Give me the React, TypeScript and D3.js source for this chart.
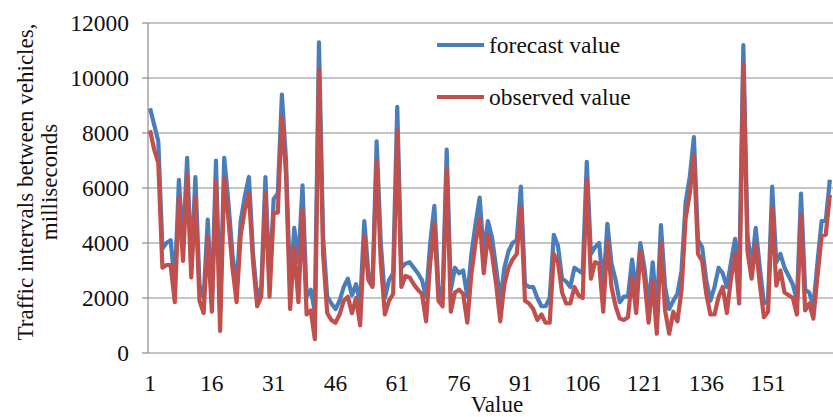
import * as d3 from "d3";

const forecast = [
  8900, 8300, 7700, 3800, 4000, 4100, 2500, 6300, 3900, 7100,
  3100, 6400, 2500, 2000, 4850, 1800, 7000, 1450, 7100, 5500,
  3600, 2400, 4800, 5700, 6400, 3600, 2000, 2400, 6400, 2500,
  5600, 5800, 9400, 7000, 2300, 4550, 3300, 6100, 2050, 2300,
  1500, 11300, 4200, 2050, 1800, 1600, 1900, 2400, 2700, 2100,
  2500, 1800, 4800, 2900, 2500, 7700, 4000, 2000, 2650, 2900,
  8950, 3100, 3250, 3300, 3100, 2900, 2650, 2050, 4000, 5350,
  2400, 2000, 7400, 2300, 3100, 2900, 3000, 2050, 3600, 4700,
  5650, 3600, 4800, 4200, 3100, 1900, 3100, 3700, 4000, 4100,
  6050, 2500, 2400, 2400, 2000, 1700, 1700, 2000, 4300, 3900,
  2700, 2600, 2400, 3100, 3000, 2900, 6950, 3600, 3850, 4000,
  2400, 4700, 3250, 2650, 1850, 2050, 2050, 3400, 2200, 4000,
  3100, 1700, 3300, 1450, 4650, 2400, 1600, 1900, 2150, 3000,
  5500, 6400, 7850, 4100, 3850, 2650, 1900, 2400, 3100, 2900,
  2400, 3300, 4150, 2800, 11200, 4300, 3100, 4550, 3100, 1800,
  1900, 6050, 3300, 3600, 3100, 2800, 2500, 1900, 5800, 2300,
  2200, 1700, 3300, 4800, 4800, 6300,
];

const observed = [
  8100, 7400, 6900, 3100, 3200, 3200, 1850, 5650, 3350, 6500,
  2750, 5650, 1900, 1450, 4200, 1500, 6250, 800, 6350, 4900,
  3100, 1850, 4300, 5200, 5800, 3300, 1700, 2050, 5800, 2050,
  5100, 5100, 8600, 6500, 1600, 3850, 1850, 5200, 1400, 1550,
  500, 10300, 3600, 1450, 1200, 1100, 1400, 1900, 2050, 1450,
  2000, 1000, 4250, 2650, 2400, 7000, 3300, 1400, 1900, 2150,
  8100, 2400, 2800, 2750, 2500, 2300, 2150, 1150, 3300, 4700,
  1900, 1700, 6700, 1500, 2200, 2300, 2150, 1100, 2900, 4000,
  4900, 2900, 4300, 3600, 2500, 1150, 2500, 3100, 3400, 3600,
  5300, 1900, 1800, 1600, 1200, 1400, 1100, 1100, 3600, 3300,
  2200, 1800, 1800, 2400, 2100, 2000, 6300, 2700, 3300, 3250,
  1500, 4100, 2400, 1700, 1250, 1200, 1300, 2750, 1450, 3700,
  2700, 1100, 2600, 700, 4000, 1550, 700, 1500, 1150, 2300,
  4900, 5800, 7200, 3600, 3350, 2150, 1400, 1400, 2050, 2400,
  1450, 2700, 3600, 1800, 10500, 3700, 2700, 4000, 2500, 1300,
  1500, 5300, 2450, 3000, 2200, 2100, 2000, 1400, 5000, 1550,
  1800, 1250, 2800, 4250, 4300, 5750,
];

const xTicks = [1, 16, 31, 46, 61, 76, 91, 106, 121, 136, 151];
const yTicks = [0, 2000, 4000, 6000, 8000, 10000, 12000];

const seriesNames = ["forecast value", "observed value"];
const seriesColors = ["#4a7ebb", "#c0504d"];

export default function App() {
  const width = 833;
  const height = 417;
  const left = 148;
  const top = 23;
  const bottom = 353;
  const n = forecast.length;
  const step = 4.12;

  const x = d3.scaleLinear().domain([0.5, n + 0.5]).range([left, left + n * step]);
  const y = d3.scaleLinear().domain([0, 12000]).range([bottom, top]);

  const line = d3
    .line<number>()
    .x((_, i) => x(i + 1))
    .y((d) => y(d));

  const font = "'Liberation Serif', 'Times New Roman', serif";

  return (
    <svg
      width={width}
      height={height}
      style={{ position: "absolute", left: 0, top: 0, background: "#fff" }}
      fontFamily={font}
    >
      {yTicks.map((t) => (
        <g key={t}>
          <line x1={left} x2={width} y1={y(t)} y2={y(t)} stroke="#8c8c8c" strokeWidth={1.2} />
          <line x1={left - 6} x2={left} y1={y(t)} y2={y(t)} stroke="#8c8c8c" strokeWidth={1.2} />
          <text x={129} y={y(t) + 8} textAnchor="end" fontSize={23.5} fill="#111">
            {t}
          </text>
        </g>
      ))}
      <line x1={left} x2={left} y1={top} y2={bottom} stroke="#8c8c8c" strokeWidth={1.2} />

      {xTicks.map((t) => (
        <text key={t} x={x(t)} y={391} textAnchor="middle" fontSize={23.5} fill="#111">
          {t}
        </text>
      ))}

      <path d={line(forecast) ?? ""} fill="none" stroke={seriesColors[0]} strokeWidth={4.2} strokeLinejoin="round" />
      <path d={line(observed) ?? ""} fill="none" stroke={seriesColors[1]} strokeWidth={4.2} strokeLinejoin="round" />

      {seriesNames.map((name, i) => (
        <g key={name}>
          <line x1={437} x2={484} y1={45 + i * 52} y2={45 + i * 52} stroke={seriesColors[i]} strokeWidth={4.2} />
          <text x={489} y={53 + i * 52} fontSize={23.5} fill="#111">
            {name}
          </text>
        </g>
      ))}

      <text transform="translate(33, 182) rotate(-90)" textAnchor="middle" fontSize={23} fill="#111">
        Traffic intervals between vehicles,
      </text>
      <text transform="translate(57, 182) rotate(-90)" textAnchor="middle" fontSize={23} fill="#111">
        milliseconds
      </text>
      <text x={497} y={412} textAnchor="middle" fontSize={23} fill="#111">
        Value
      </text>
    </svg>
  );
}
